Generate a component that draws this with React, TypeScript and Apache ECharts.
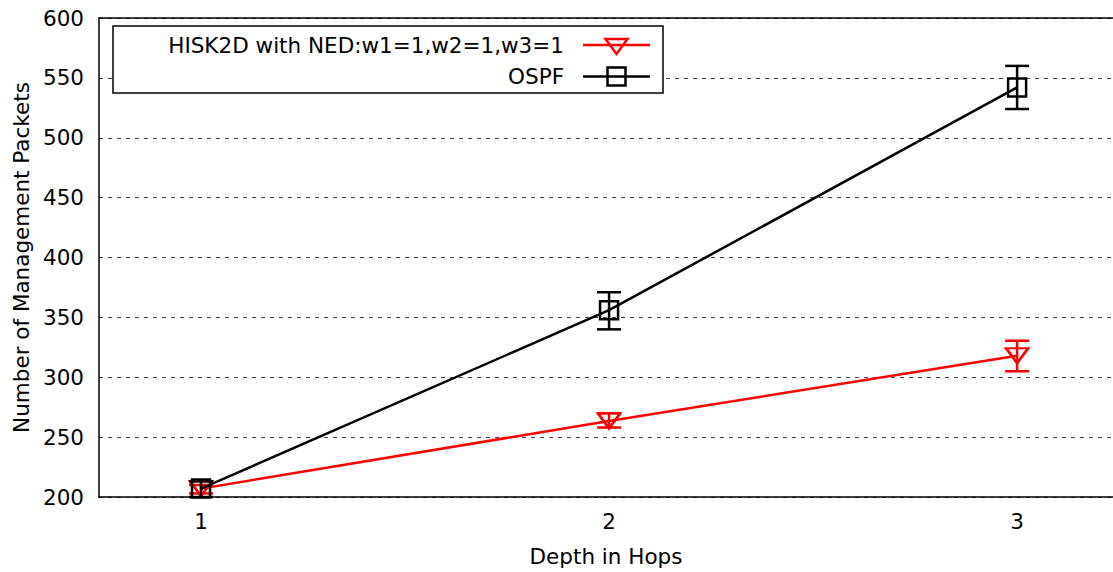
import React, { useEffect, useRef } from "react";
import * as echarts from "echarts";

const depths = [1, 2, 3];
const hiskValues = [207, 263.5, 318];
const hiskLow = [203, 258, 305];
const hiskHigh = [210, 270, 330.5];
const ospfValues = [207, 356, 542];
const ospfLow = [200, 340, 524];
const ospfHigh = [213, 371, 560];
const yTicks = [200, 250, 300, 350, 400, 450, 500, 550, 600];

const FONT = '"DejaVu Sans", "Liberation Sans", Arial, sans-serif';
const FS = 21.5;

function errorBarSeries(name: string, color: string, low: number[], high: number[], z: number) {
  return {
    name,
    type: "custom",
    z,
    renderItem: (params: any, api: any) => {
      const x = api.value(0);
      const lo = api.coord([x, api.value(1)]);
      const hi = api.coord([x, api.value(2)]);
      const cap = 12;
      const st = { stroke: color, lineWidth: 2.5 };
      return {
        type: "group",
        children: [
          { type: "line", shape: { x1: lo[0], y1: lo[1], x2: hi[0], y2: hi[1] }, style: st },
          { type: "line", shape: { x1: lo[0] - cap, y1: lo[1], x2: lo[0] + cap, y2: lo[1] }, style: st },
          { type: "line", shape: { x1: hi[0] - cap, y1: hi[1], x2: hi[0] + cap, y2: hi[1] }, style: st },
        ],
      };
    },
    data: depths.map((d, i) => [d, low[i], high[i]]),
  };
}

export default function App() {
  const ref = useRef<HTMLDivElement>(null);
  useEffect(() => {
    if (!ref.current) return;
    const chart = echarts.init(ref.current, null, { renderer: "svg" });
    const xMin = 0.75;
    const xMax = 3.235;
    chart.setOption({
      animation: false,
      backgroundColor: "#fff",
      grid: { left: 99, top: 18, right: 0, bottom: 75, show: false },
      xAxis: [
        {
          type: "value",
          min: xMin,
          max: xMax,
          interval: 0.25,
          name: "Depth in Hops",
          nameLocation: "middle",
          nameGap: 48,
          nameTextStyle: { fontFamily: FONT, fontSize: FS, color: "#000" },
          axisLine: { show: true, onZero: false, lineStyle: { color: "#000", width: 1.5 } },
          axisTick: { show: false },
          splitLine: { show: false },
          axisLabel: {
            margin: 13,
            fontFamily: FONT,
            fontSize: FS,
            color: "#000",
            showMinLabel: false,
            showMaxLabel: false,
            formatter: (v: number) => (depths.includes(v) ? String(v) : ""),
          },
        },
        {
          type: "value",
          position: "top",
          min: xMin,
          max: xMax,
          interval: 0.25,
          axisLine: { show: true, onZero: false, lineStyle: { color: "#000", width: 1.5 } },
          axisTick: { show: false },
          axisLabel: { show: false },
          splitLine: { show: false },
        },
      ],
      yAxis: {
        type: "value",
        min: yTicks[0],
        max: yTicks[yTicks.length - 1],
        interval: 50,
        name: "Number of Management Packets",
        nameLocation: "middle",
        nameGap: 66,
        nameTextStyle: { fontFamily: FONT, fontSize: FS, color: "#000" },
        axisLine: { show: true, onZero: false, lineStyle: { color: "#000", width: 1.5 } },
        axisTick: { show: false },
        axisLabel: { margin: 15, fontFamily: FONT, fontSize: FS, color: "#000" },
        splitLine: { show: true, lineStyle: { color: "#444", width: 1, type: [4, 5] } },
      },
      series: [
        {
          name: "HISK2D with NED:w1=1,w2=1,w3=1",
          type: "line",
          z: 3,
          data: depths.map((d, i) => [d, hiskValues[i]]),
          symbol: "triangle",
          symbolRotate: 180,
          symbolSize: [22, 15],
          showAllSymbol: true,
          lineStyle: { color: "#ff0000", width: 2.5 },
          itemStyle: { color: "rgba(0,0,0,0)", borderColor: "#ff0000", borderWidth: 2.5 },
        },
        errorBarSeries("HISK2D err", "#ff0000", hiskLow, hiskHigh, 3),
        {
          name: "OSPF",
          type: "line",
          z: 4,
          data: depths.map((d, i) => [d, ospfValues[i]]),
          symbol: "rect",
          symbolSize: 18,
          showAllSymbol: true,
          lineStyle: { color: "#000", width: 2.5 },
          itemStyle: { color: "rgba(0,0,0,0)", borderColor: "#000", borderWidth: 2.5 },
        },
        errorBarSeries("OSPF err", "#000", ospfLow, ospfHigh, 4),
      ],
      graphic: [
        {
          type: "rect",
          z: 100,
          shape: { x: 113, y: 26, width: 550, height: 67 },
          style: { fill: "#fff", stroke: "#000", lineWidth: 1.5 },
        },
        {
          type: "text",
          z: 101,
          x: 564,
          y: 45,
          style: {
            text: "HISK2D with NED:w1=1,w2=1,w3=1",
            align: "right",
            verticalAlign: "middle",
            fontFamily: FONT,
            fontSize: FS,
            fill: "#000",
          },
        },
        {
          type: "line",
          z: 101,
          shape: { x1: 583, y1: 45, x2: 650, y2: 45 },
          style: { stroke: "#ff0000", lineWidth: 2.5 },
        },
        {
          type: "polygon",
          z: 102,
          shape: { points: [[605.5, 39], [627.5, 39], [616.5, 54]] },
          style: { fill: "none", stroke: "#ff0000", lineWidth: 2.5 },
        },
        {
          type: "text",
          z: 101,
          x: 564,
          y: 76.5,
          style: {
            text: "OSPF",
            align: "right",
            verticalAlign: "middle",
            fontFamily: FONT,
            fontSize: FS,
            fill: "#000",
          },
        },
        {
          type: "line",
          z: 101,
          shape: { x1: 583, y1: 76.5, x2: 650, y2: 76.5 },
          style: { stroke: "#000", lineWidth: 2.5 },
        },
        {
          type: "rect",
          z: 102,
          shape: { x: 607.5, y: 67.5, width: 18, height: 18 },
          style: { fill: "none", stroke: "#000", lineWidth: 2.5 },
        },
      ],
    });
    return () => chart.dispose();
  }, []);
  return (
    <div
      ref={ref}
      style={{ position: "fixed", left: 0, top: 0, width: 1113, height: 572, background: "#fff" }}
    />
  );
}
